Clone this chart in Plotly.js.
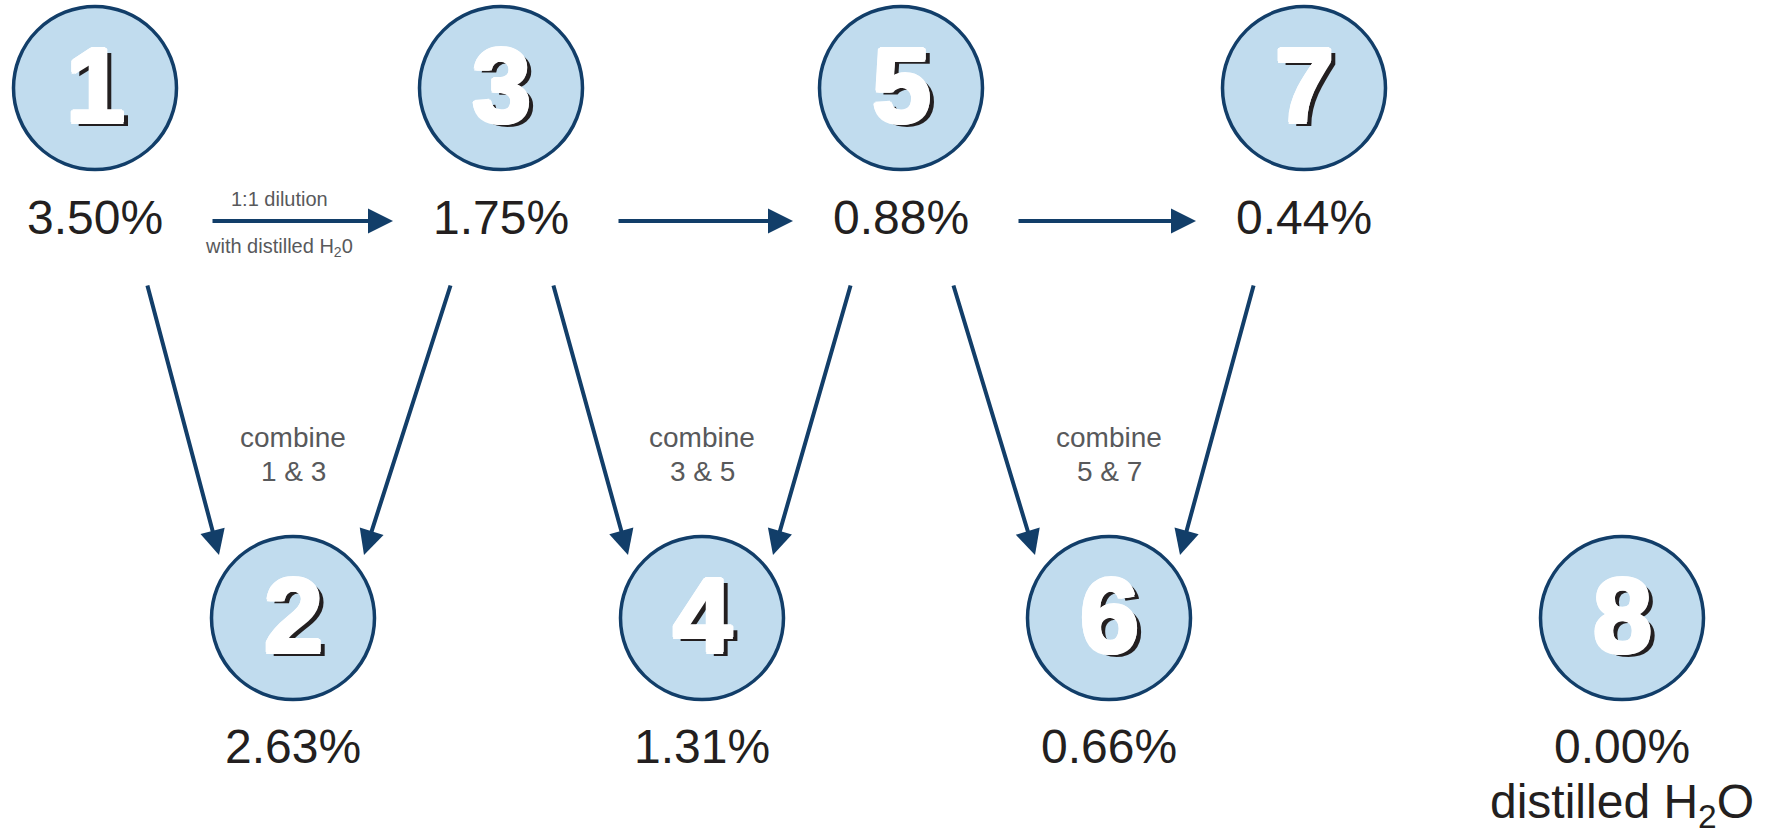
<!DOCTYPE html>
<html>
<head>
<meta charset="utf-8">
<script src="https://cdn.plot.ly/plotly-3.0.1.min.js"></script>
<style>
  html, body { margin: 0; padding: 0; background: #ffffff; }
  #chart { width: 1776px; height: 838px; }
</style>
</head>
<body>
<div id="chart"></div>
<script>
// ---------- data ----------
const nodeLabels = ['1', '2', '3', '4', '5', '6', '7', '8'];
const concentrationValues = [3.50, 2.63, 1.75, 1.31, 0.88, 0.66, 0.44, 0.00];
const dilutionSteps = [[0, 2], [2, 4], [4, 6]];          // 1->3, 3->5, 5->7 (indices)
const combineSteps = [[0, 2, 1], [2, 4, 3], [4, 6, 5]];   // combine a & b -> m (indices)
const dilutionTextTop = '1:1 dilution';
const dilutionTextBottom = 'with distilled H<sub>2</sub>0';
const combineWord = 'combine';
const waterText = 'distilled H<sub>2</sub>O';

// ---------- layout geometry (page pixels) ----------
const W = 1776, H = 838;
const nodeX = [95, 293, 501, 702, 901, 1109, 1304, 1622];
const rowY = { top: 88, bottom: 618 };
const nodeRow = ['top', 'bottom', 'top', 'bottom', 'top', 'bottom', 'top', 'bottom'];
const pctY = { top: 217, bottom: 746 };

const navy = '#123e69';
const fillBlue = '#c1dcee';
const textDark = '#231f20';
const textGray = '#58595b';
const FONT = 'Liberation Sans, Arial, Helvetica, sans-serif';

const nodeY = nodeRow.map(r => rowY[r]);

const traces = [{
  type: 'scatter',
  mode: 'markers',
  x: nodeX,
  y: nodeY,
  marker: { size: 163, color: fillBlue, line: { color: navy, width: 3.5 } },
  hoverinfo: 'skip',
  showlegend: false
}];

const annotations = [];

// big digits with white halo and dark drop shadow
const halo = [[2,0],[-2,0],[0,2],[0,-2],[1.5,1.5],[-1.5,-1.5],[1.5,-1.5],[-1.5,1.5]]
  .map(([dx, dy]) => `${dx}px ${dy}px 0px #ffffff`).join(', ');
const digitShadow = halo + ', 6px 4px 0px ' + textDark;

nodeLabels.forEach((lab, i) => {
  annotations.push({
    x: nodeX[i], y: nodeY[i] - 3, xref: 'x', yref: 'y',
    text: lab, showarrow: false, xanchor: 'center', yanchor: 'middle',
    font: { family: FONT, size: 106, color: '#ffffff', weight: 700, shadow: digitShadow }
  });
  annotations.push({
    x: nodeX[i], y: pctY[nodeRow[i]], xref: 'x', yref: 'y',
    text: concentrationValues[i].toFixed(2) + '%', showarrow: false,
    xanchor: 'center', yanchor: 'middle',
    font: { family: FONT, size: 48, color: textDark }
  });
});

// water label under node 8
annotations.push({
  x: nodeX[7], y: 805, xref: 'x', yref: 'y', text: waterText, showarrow: false,
  xanchor: 'center', yanchor: 'middle',
  font: { family: FONT, size: 48, color: textDark }
});

// horizontal dilution arrows
const arrowY = 221;
dilutionSteps.forEach(([a, b], k) => {
  annotations.push({
    x: nodeX[b] - 108, y: arrowY, ax: nodeX[a] + 116, ay: arrowY,
    xref: 'x', yref: 'y', axref: 'x', ayref: 'y', text: '',
    showarrow: true, arrowhead: 2, arrowsize: 1.25, arrowwidth: 4, arrowcolor: navy, standoff: 0
  });
  if (k === 0) {
    const cx = nodeX[a] + 184;
    annotations.push({
      x: cx, y: 199, xref: 'x', yref: 'y', text: dilutionTextTop, showarrow: false,
      xanchor: 'center', yanchor: 'middle', font: { family: FONT, size: 20, color: textGray }
    });
    annotations.push({
      x: cx, y: 247, xref: 'x', yref: 'y', text: dilutionTextBottom, showarrow: false,
      xanchor: 'center', yanchor: 'middle', font: { family: FONT, size: 20, color: textGray }
    });
  }
});

// diagonal combine arrows
const tailY = 284, tipY = 555;
combineSteps.forEach(([a, b, m]) => {
  annotations.push({
    x: nodeX[m] - 74, y: tipY, ax: nodeX[a] + 52, ay: tailY,
    xref: 'x', yref: 'y', axref: 'x', ayref: 'y', text: '',
    showarrow: true, arrowhead: 2, arrowsize: 1.25, arrowwidth: 4, arrowcolor: navy, standoff: 0
  });
  annotations.push({
    x: nodeX[m] + 71, y: tipY, ax: nodeX[b] - 50, ay: tailY,
    xref: 'x', yref: 'y', axref: 'x', ayref: 'y', text: '',
    showarrow: true, arrowhead: 2, arrowsize: 1.25, arrowwidth: 4, arrowcolor: navy, standoff: 0
  });
  annotations.push({
    x: nodeX[m], y: 437, xref: 'x', yref: 'y',
    text: combineWord, showarrow: false,
    xanchor: 'center', yanchor: 'middle',
    font: { family: FONT, size: 28, color: textGray }
  });
  annotations.push({
    x: nodeX[m], y: 471, xref: 'x', yref: 'y',
    text: nodeLabels[a] + ' & ' + nodeLabels[b], showarrow: false,
    xanchor: 'center', yanchor: 'middle',
    font: { family: FONT, size: 28, color: textGray }
  });
});

const layout = {
  width: W, height: H,
  margin: { l: 0, r: 0, t: 0, b: 0, pad: 0 },
  paper_bgcolor: '#ffffff', plot_bgcolor: '#ffffff',
  xaxis: { range: [0, W], visible: false, fixedrange: true, showgrid: false, zeroline: false },
  yaxis: { range: [H, 0], visible: false, fixedrange: true, showgrid: false, zeroline: false },
  showlegend: false,
  annotations: annotations
};

Plotly.newPlot('chart', traces, layout, { displayModeBar: false, staticPlot: true });
</script>
</body>
</html>
